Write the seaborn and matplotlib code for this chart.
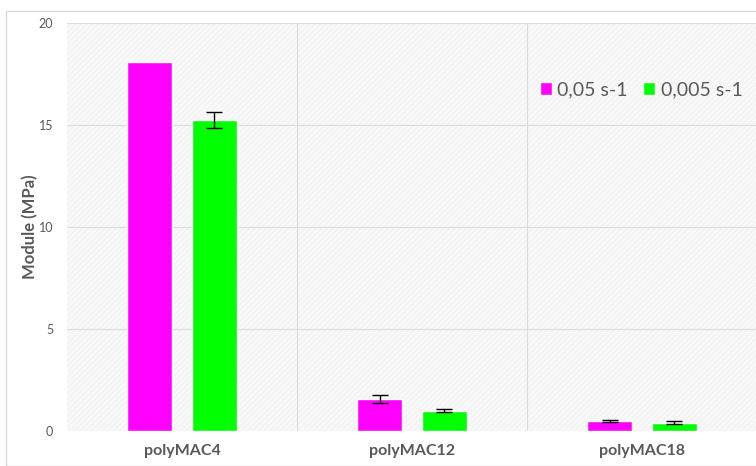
import pandas as pd
import seaborn as sns
import matplotlib.pyplot as plt
from matplotlib.patches import Rectangle

# valeurs
samples = ['polyMAC4', 'polyMAC12', 'polyMAC18']
rates = ['0,05 s-1', '0,005 s-1']
module_fast = [18.1, 1.57, 0.49]
module_slow = [15.25, 1.0, 0.41]
err_fast = [0.0, 0.2, 0.07]
err_slow = [0.38, 0.08, 0.07]
colors = ['#ff00ff', '#00ff00']

df = pd.DataFrame({
    'Sample': samples * 2,
    'Rate': [rates[0]] * 3 + [rates[1]] * 3,
    'Module': module_fast + module_slow,
    'Err': err_fast + err_slow,
})

sns.set_style('white')
plt.rcParams['font.family'] = ['Lato', 'DejaVu Sans']
plt.rcParams['hatch.color'] = '#ebebeb'
plt.rcParams['hatch.linewidth'] = 0.35

fig = plt.figure(figsize=(7.56, 4.66), dpi=100)
fig.patches.append(Rectangle((6 / 756, 0), 1, 455 / 466, transform=fig.transFigure,
                             fill=False, edgecolor='#d9d9d9', linewidth=1))
ax = fig.add_axes([67 / 756, 35 / 466, 690 / 756, 408 / 466])
ax.set_facecolor('#f8f8f8')
ax.add_patch(Rectangle((0, 0), 1, 1, transform=ax.transAxes, facecolor='none',
                       hatch='//////', edgecolor='#ebebeb', linewidth=0, zorder=0))

sns.barplot(data=df, x='Sample', y='Module', hue='Rate', palette=colors,
            width=0.565, gap=0.31, errorbar=None, saturation=1, ax=ax, zorder=3)

# barres d'erreur (centres des barres décalés de +/- width/4)
offsets = [-0.141, 0.141]
for i, rate in enumerate(rates):
    sub = df[df['Rate'] == rate]
    for j, (val, err) in enumerate(zip(sub['Module'], sub['Err'])):
        if err <= 0:
            continue
        ax.errorbar(j + offsets[i], val, yerr=err, fmt='none', ecolor='black',
                    elinewidth=1, capsize=6, capthick=1, zorder=4)

ax.set_xlim(-0.5, 2.5)
ax.set_ylim(0, 20)
ax.set_yticks([0, 5, 10, 15, 20])
for y in [5, 10, 15, 20]:
    ax.axhline(y, color='#dcdcdc', linewidth=0.8, zorder=1)
for x in [0.5, 1.5]:
    ax.axvline(x, color='#dcdcdc', linewidth=0.8, zorder=1)
for s in ax.spines.values():
    s.set_visible(False)

ax.tick_params(axis='y', length=0, labelsize=9, labelcolor='#595959', pad=10)
ax.tick_params(axis='x', length=0, labelsize=11.5, labelcolor='#595959', pad=9)
for lab in ax.get_xticklabels():
    lab.set_fontweight('bold')
ax.set_xlabel('')
ax.set_ylabel('Module (MPa)', fontsize=12, fontweight='bold', color='#595959')
ax.yaxis.set_label_coords(-29 / 690, 0.5)

ax.legend(loc='upper left', bbox_to_anchor=(0.66, 0.9), ncol=2, frameon=False,
          fontsize=14, handlelength=0.6, handleheight=0.7, handletextpad=0.3,
          columnspacing=0.8, labelcolor='#595959')

fig.savefig('out.png', dpi=100)
